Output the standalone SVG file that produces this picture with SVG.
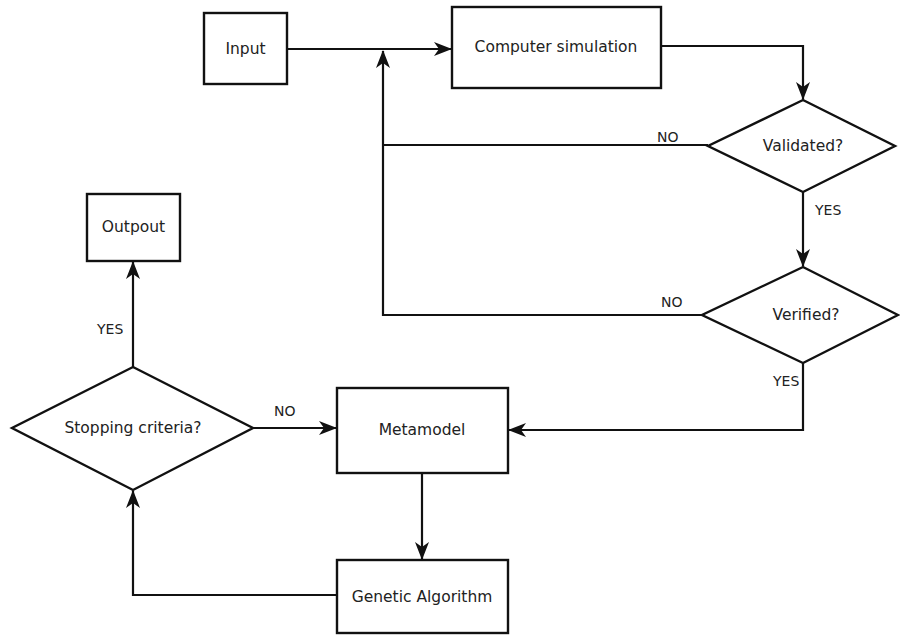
<svg xmlns="http://www.w3.org/2000/svg" width="900" height="636" viewBox="0 0 900 636">
<style>
.box{fill:#fff;stroke:#111;stroke-width:2.4}
.t{font-family:"DejaVu Sans",sans-serif;font-size:15.5px;fill:#222;text-anchor:middle;dominant-baseline:central}
.lbl{font-family:"DejaVu Sans",sans-serif;font-size:14px;fill:#222}
.c{fill:none;stroke:#111;stroke-width:2.2}
</style>
<defs>
<marker id="ah" viewBox="0 0 18 14" refX="17" refY="7" markerWidth="18" markerHeight="14" markerUnits="userSpaceOnUse" orient="auto">
<path d="M0,0 L18,7 L0,14 L5,7 Z" fill="#111"/>
</marker>
</defs>
<rect width="900" height="636" fill="#fff"/>
<g id="connectors">
<path class="c" d="M287,49 H451" marker-end="url(#ah)"/>
<path class="c" d="M661,46 H803 V99" marker-end="url(#ah)"/>
<path class="c" d="M708,145 H383"/>
<path class="c" d="M702,315 H383 V51" marker-end="url(#ah)"/>
<path class="c" d="M803,192 V266" marker-end="url(#ah)"/>
<path class="c" d="M803,363 V430 H509" marker-end="url(#ah)"/>
<path class="c" d="M253,428 H336" marker-end="url(#ah)"/>
<path class="c" d="M422,473 V559" marker-end="url(#ah)"/>
<path class="c" d="M337,595 H133 V491" marker-end="url(#ah)"/>
<path class="c" d="M133,367 V262" marker-end="url(#ah)"/>
<text class="lbl" x="657" y="142">NO</text>
<text class="lbl" x="661" y="307">NO</text>
<text class="lbl" x="815" y="215">YES</text>
<text class="lbl" x="773" y="386">YES</text>
<text class="lbl" x="97" y="334">YES</text>
<text class="lbl" x="274" y="416">NO</text>
</g>
<g id="input"><rect class="box" x="204" y="13" width="83" height="71"/><text class="t" x="245.5" y="49">Input</text></g>
<g id="computer-simulation"><rect class="box" x="452" y="7" width="209" height="81"/><text class="t" x="556" y="47">Computer simulation</text></g>
<g id="validated"><path class="box" d="M803,100 L895,146 L803,192 L708,146 Z"/><text class="t" x="803" y="146">Validated?</text></g>
<g id="verified"><path class="box" d="M803,267 L898,315 L803,363 L702,315 Z"/><text class="t" x="806" y="315">Verified?</text></g>
<g id="outpout"><rect class="box" x="87" y="194" width="93" height="67"/><text class="t" x="133.5" y="227">Outpout</text></g>
<g id="stopping-criteria"><path class="box" d="M133,367 L253,428 L133,490 L12,428 Z"/><text class="t" x="133" y="428">Stopping criteria?</text></g>
<g id="metamodel"><rect class="box" x="337" y="388" width="171" height="85"/><text class="t" x="422" y="430">Metamodel</text></g>
<g id="genetic-algorithm"><rect class="box" x="337" y="560" width="171" height="73"/><text class="t" x="422" y="597">Genetic Algorithm</text></g>
</svg>
